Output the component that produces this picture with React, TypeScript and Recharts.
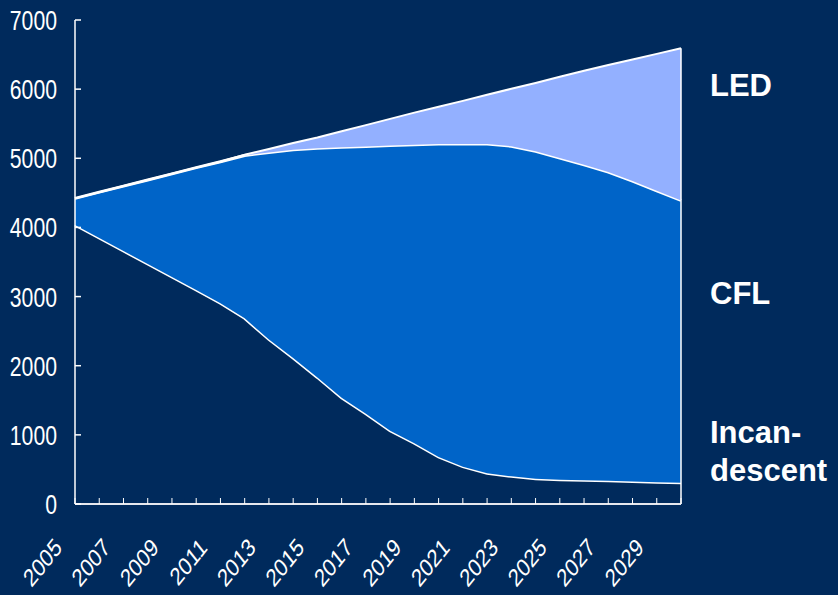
import React from 'react';
import {
  AreaChart,
  Area,
  XAxis,
  YAxis,
  ReferenceLine,
} from 'recharts';

const YEARS = [
  '2005', '2006', '2007', '2008', '2009', '2010', '2011', '2012', '2013',
  '2014', '2015', '2016', '2017', '2018', '2019', '2020', '2021', '2022',
  '2023', '2024', '2025', '2026', '2027', '2028', '2029', '2030',
];

const INCANDESCENT = [
  4035, 3847, 3659, 3471, 3283, 3095, 2903, 2686, 2380, 2110, 1830, 1535, 1305,
  1060, 880, 680, 540, 445, 400, 365, 350, 345, 335, 325, 315, 308,
];

const CFL = [
  385, 663, 939, 1215, 1492, 1770, 2048, 2354, 2705, 3015, 3315, 3625, 3867,
  4125, 4315, 4525, 4668, 4760, 4775, 4735, 4655, 4560, 4465, 4345, 4215, 4082,
];

const LED = [
  0, 0, 0, 0, 0, 0, 0, 10, 50, 95, 155, 230, 308,
  385, 465, 540, 622, 715, 830, 990, 1175, 1360, 1550, 1760, 1980, 2200,
];

const Y_TICKS = [0, 1000, 2000, 3000, 4000, 5000, 6000, 7000];
const X_LABELS = [
  '2005', '2007', '2009', '2011', '2013', '2015', '2017', '2019', '2021',
  '2023', '2025', '2027', '2029',
];

const BG = '#002a5c';
const CFL_BLUE = '#0064c8';
const LED_BLUE = '#93b0ff';
const NARROW = "'Liberation Sans Narrow', 'Arial Narrow', 'Liberation Sans', Arial, sans-serif";
const SANS = "'Liberation Sans', Arial, sans-serif";

const data = YEARS.map((year, i) => ({
  year,
  incandescent: INCANDESCENT[i],
  cfl: CFL[i],
  led: LED[i],
}));

const last = YEARS.length - 1;
const lastTotal = INCANDESCENT[last] + CFL[last] + LED[last];

const YTick = (props: any) => {
  const { x, y, payload } = props;
  const label = String(payload.value);
  return (
    <g>
      <line x1={x} y1={y} x2={x + 6} y2={y} stroke="#ffffff" strokeWidth={1.5} />
      <text
        x={x - 18}
        y={y + 10}
        textAnchor="end"
        fill="#ffffff"
        fontFamily={NARROW}
        fontSize={27}
        textLength={label.length * 11.8}
        lengthAdjust="spacingAndGlyphs"
      >
        {label}
      </text>
    </g>
  );
};

// labels in the original are squeezed horizontally, so scale x before rotating
const XTick = (props: any) => {
  const { x, y, payload } = props;
  const label = String(payload.value);
  const show = X_LABELS.includes(label);
  const tx = x - 12;
  const ty = y + 45;
  return (
    <g>
      <line x1={x} y1={y} x2={x} y2={y - 6} stroke="#ffffff" strokeWidth={1} />
      {show && (
        <text
          x={0}
          y={0}
          textAnchor="end"
          fill="#ffffff"
          fontFamily={SANS}
          fontSize={25}
          transform={`translate(${tx}, ${ty}) scale(0.8, 1) rotate(-45)`}
        >
          {label}
        </text>
      )}
    </g>
  );
};

export default function App() {
  return (
    <div
      style={{
        position: 'absolute',
        left: 0,
        top: 0,
        width: 838,
        height: 595,
        background: BG,
        overflow: 'hidden',
      }}
    >
      <AreaChart
        width={838}
        height={595}
        data={data}
        margin={{ top: 20, right: 157, left: 0, bottom: 0 }}
      >
        <XAxis
          dataKey="year"
          interval={0}
          height={91}
          tickSize={0}
          tickMargin={0}
          tick={<XTick />}
          axisLine={{ stroke: '#e6e8ee', strokeWidth: 2 }}
          tickLine={false}
        />
        <YAxis
          domain={[0, 7000]}
          ticks={Y_TICKS}
          width={75}
          tickSize={0}
          tickMargin={0}
          tick={<YTick />}
          axisLine={{ stroke: '#ffffff', strokeWidth: 1.5 }}
          tickLine={false}
          interval={0}
        />
        <Area
          type="linear"
          dataKey="incandescent"
          stackId="1"
          stroke="#ffffff"
          strokeWidth={3}
          fill={BG}
          fillOpacity={1}
          isAnimationActive={false}
          activeDot={false}
        />
        <Area
          type="linear"
          dataKey="cfl"
          stackId="1"
          stroke="#ffffff"
          strokeWidth={3}
          fill={CFL_BLUE}
          fillOpacity={1}
          isAnimationActive={false}
          activeDot={false}
        />
        <Area
          type="linear"
          dataKey="led"
          stackId="1"
          stroke="#ffffff"
          strokeWidth={2}
          fill={LED_BLUE}
          fillOpacity={1}
          isAnimationActive={false}
          activeDot={false}
        />
        <ReferenceLine
          segment={[
            { x: YEARS[last], y: 0 },
            { x: YEARS[last], y: lastTotal },
          ]}
          stroke="#ffffff"
          strokeWidth={1.5}
        />
      </AreaChart>
      <svg
        width={838}
        height={595}
        style={{ position: 'absolute', left: 0, top: 0, pointerEvents: 'none' }}
      >
        <g fill="#ffffff" fontFamily={SANS} fontWeight="bold" fontSize={31}>
          <text x={710} y={96}>LED</text>
          <text x={710} y={304}>CFL</text>
          <text x={710} y={443}>Incan-</text>
          <text x={710} y={481}>descent</text>
        </g>
      </svg>
    </div>
  );
}
